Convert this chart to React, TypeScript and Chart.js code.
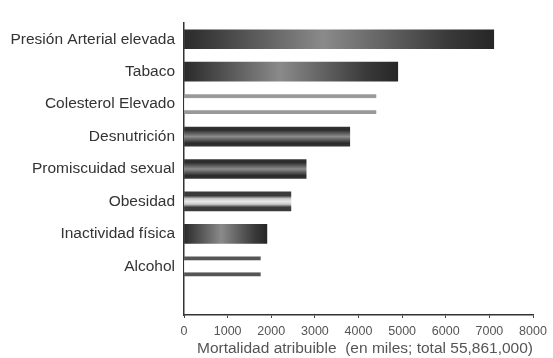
import { useEffect, useRef } from 'react';
import { Chart, registerables } from 'chart.js';

Chart.register(...registerables);

const categories = [
  'Presión Arterial elevada',
  'Tabaco',
  'Colesterol Elevado',
  'Desnutrición',
  'Promiscuidad sexual',
  'Obesidad',
  'Inactividad física',
  'Alcohol',
  '',
];
const mortality = [7100, 4900, 4400, 3800, 2800, 2450, 1900, 1750, null];
const xMin = 0;
const xMax = 8000;
const xStep = 1000;
const xTitle = 'Mortalidad atribuible  (en miles; total 55,861,000)';

// visual style per bar (not data)
const barStyles = ['hgrad', 'hgrad', 'hollowLight', 'vdark', 'vdark', 'vlight', 'hgrad', 'hollowDark', 'none'];
const BAR = 19;
const FONT = 'Liberation Sans, Arial, sans-serif';

function barFill(ctx: any) {
  const chart = ctx.chart;
  if (ctx.type !== 'data' || !chart.chartArea || ctx.raw == null) return '#555';
  const xs = chart.scales.x;
  const ys = chart.scales.y;
  const i = ctx.dataIndex;
  const x0 = xs.getPixelForValue(0);
  const x1 = xs.getPixelForValue(ctx.raw);
  const yc = ys.getPixelForValue(i);
  const h = BAR / 2;
  const c = chart.ctx as CanvasRenderingContext2D;
  const s = barStyles[i];
  if (s === 'hgrad') {
    const g = c.createLinearGradient(x0, 0, x1, 0);
    g.addColorStop(0, '#2a2a2a');
    g.addColorStop(0.45, '#8a8a8a');
    g.addColorStop(0.85, '#3a3a3a');
    g.addColorStop(1, '#262626');
    return g;
  }
  const g = c.createLinearGradient(0, yc - h, 0, yc + h);
  if (s === 'vdark') {
    g.addColorStop(0, '#333');
    g.addColorStop(0.15, '#2a2a2a');
    g.addColorStop(0.5, '#8c8c8c');
    g.addColorStop(0.85, '#2a2a2a');
    g.addColorStop(1, '#333');
  } else if (s === 'vlight') {
    g.addColorStop(0, '#3a3a3a');
    g.addColorStop(0.2, '#3a3a3a');
    g.addColorStop(0.35, '#c8c8c8');
    g.addColorStop(0.5, '#e8e8e8');
    g.addColorStop(0.65, '#c8c8c8');
    g.addColorStop(0.8, '#3a3a3a');
    g.addColorStop(1, '#3a3a3a');
  } else if (s === 'hollowLight') {
    g.addColorStop(0, '#999');
    g.addColorStop(0.15, '#999');
    g.addColorStop(0.21, '#ffffff');
    g.addColorStop(0.79, '#ffffff');
    g.addColorStop(0.85, '#999');
    g.addColorStop(1, '#999');
  } else {
    g.addColorStop(0, '#555');
    g.addColorStop(0.15, '#555');
    g.addColorStop(0.21, '#ffffff');
    g.addColorStop(0.79, '#ffffff');
    g.addColorStop(0.85, '#555');
    g.addColorStop(1, '#555');
  }
  return g;
}

export default function App() {
  const ref = useRef<HTMLCanvasElement | null>(null);
  useEffect(() => {
    if (!ref.current) return;
    const chart = new Chart(ref.current, {
      type: 'bar',
      data: {
        labels: categories,
        datasets: [
          {
            data: mortality as any,
            backgroundColor: barFill as any,
            borderWidth: 0,
            barThickness: BAR,
          },
        ],
      },
      options: {
        indexAxis: 'y',
        responsive: false,
        animation: false,
        layout: { padding: { top: 23, right: 20, left: 0, bottom: 0 } },
        plugins: { legend: { display: false }, tooltip: { enabled: false } },
        scales: {
          x: {
            min: xMin,
            max: xMax,
            afterFit: (s: any) => {
              s.height = 43;
            },
            ticks: {
              stepSize: xStep,
              color: '#555',
              font: { family: FONT, size: 12.5 },
              padding: 6,
              maxRotation: 0,
              callback: (v: any) => String(v),
            },
            grid: { display: true, drawOnChartArea: false, drawTicks: true, tickLength: 3, color: '#444' },
            border: { display: true, color: '#333', width: 1.5 },
            title: {
              display: true,
              text: xTitle,
              align: 'end',
              color: '#555',
              font: { family: FONT, size: 15.5 },
              padding: { top: 0, bottom: 0 },
            },
          },
          y: {
            afterFit: (s: any) => {
              s.width = 184;
            },
            ticks: {
              color: '#333',
              font: { family: FONT, size: 15.5 },
              padding: 9,
            },
            grid: { display: false, drawTicks: false },
            border: { display: true, color: '#333', width: 1.5 },
          },
        },
      },
    });
    return () => chart.destroy();
  }, []);
  return (
    <div style={{ position: 'fixed', left: 0, top: 0, width: 553, height: 358, background: '#fff' }}>
      <canvas ref={ref} width={553} height={358} />
    </div>
  );
}
